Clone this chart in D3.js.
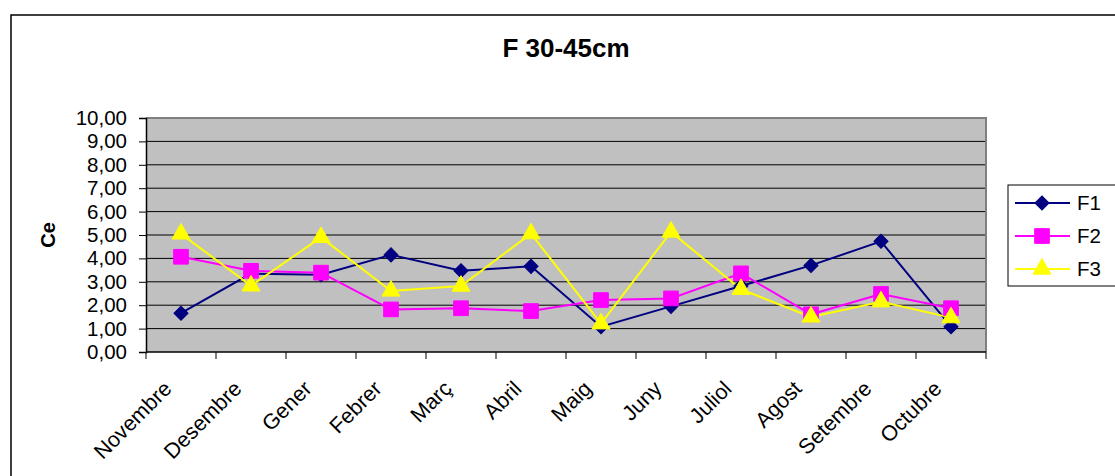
<!DOCTYPE html>
<html><head><meta charset="utf-8">
<script src="https://cdn.jsdelivr.net/npm/d3@7"></script>
<style>
body{margin:0;background:#fff;}
text{font-family:"Liberation Sans",Arial,sans-serif;fill:#000;}
</style></head>
<body><svg id="c" width="1115" height="476"></svg>
<script>
const categories = ["Novembre","Desembre","Gener","Febrer","Març","Abril","Maig","Juny","Juliol","Agost","Setembre","Octubre"];
const seriesNames = ["F1","F2","F3"];
const F1 = [1.66,3.35,3.30,4.15,3.47,3.66,1.08,1.95,2.82,3.70,4.73,1.08];
const F2 = [4.07,3.47,3.39,1.82,1.87,1.75,2.22,2.29,3.36,1.61,2.48,1.87];
const F3 = [5.05,2.83,4.90,2.61,2.82,5.06,1.21,5.13,2.68,1.50,2.15,1.47];
const yTicks = [0,1,2,3,4,5,6,7,8,9,10];
const title = "F 30-45cm";
const yLabel = "Ce";

const colors = {F1:"#000080",F2:"#FF00FF",F3:"#FFFF00"};
const symbols = {F1:d3.symbolSquare,F2:d3.symbolSquare,F3:d3.symbolTriangle};
const symRot = {F1:45,F2:0,F3:0};
const symSize = {F1:100,F2:215,F3:140};
const data = {F1,F2,F3};

const svg = d3.select("#c");
const L=146,R=986,T=118,B=352;

svg.append("rect").attr("x",11).attr("y",15).attr("width",1130).attr("height",480)
  .attr("fill","none").attr("stroke","#000").attr("stroke-width",1.5);

const x = d3.scaleBand().domain(categories).range([L,R]).padding(0);
const y = d3.scaleLinear().domain([0,10]).range([B,T]);
const cx = c => x(c)+x.bandwidth()/2;

svg.append("rect").attr("x",L).attr("y",T).attr("width",R-L).attr("height",B-T).attr("fill","#C0C0C0");
svg.append("g").selectAll("line").data(yTicks.filter(v=>v>0&&v<10)).join("line")
  .attr("x1",L).attr("x2",R).attr("y1",d=>y(d)).attr("y2",d=>y(d))
  .attr("stroke","#000").attr("stroke-width",1);
svg.append("path").attr("d",`M${L},${T}H${R}V${B}`).attr("fill","none").attr("stroke","#808080").attr("stroke-width",2);

const yAxis = d3.axisLeft(y).tickValues(yTicks).tickSize(7).tickPadding(12)
  .tickFormat(d=>d3.format(".2f")(d).replace(".",","));
const gy = svg.append("g").attr("transform",`translate(${L},0)`).call(yAxis);
gy.select(".domain").attr("stroke","#000").attr("stroke-width",1.5);
gy.selectAll(".tick line").attr("stroke","#000");
gy.selectAll("text").style("font-size","20.5px").attr("fill","#000");

svg.append("line").attr("x1",L).attr("x2",R).attr("y1",B).attr("y2",B).attr("stroke","#000").attr("stroke-width",1.5);
const bounds = categories.map(c=>x(c)).concat([R]);
svg.append("g").selectAll("line").data(bounds).join("line")
  .attr("x1",d=>d).attr("x2",d=>d).attr("y1",B).attr("y2",B+7).attr("stroke","#000");
svg.append("g").selectAll("text").data(categories).join("text")
  .attr("transform",d=>`translate(${cx(d)-8},390) rotate(-45)`)
  .attr("text-anchor","end").style("font-size","21.5px").text(d=>d);

seriesNames.forEach(s=>{
  const vals = data[s];
  const line = d3.line().x((d,i)=>cx(categories[i])).y(d=>y(d));
  svg.append("path").datum(vals).attr("d",line).attr("fill","none")
    .attr("stroke",colors[s]).attr("stroke-width",2);
});
seriesNames.forEach(s=>{
  const vals = data[s];
  svg.append("g").selectAll("path").data(vals).join("path")
    .attr("transform",(d,i)=>`translate(${cx(categories[i])},${y(d)}) rotate(${symRot[s]})`)
    .attr("d",d3.symbol().type(symbols[s]).size(symSize[s]))
    .attr("fill",colors[s]).attr("stroke",colors[s]).attr("stroke-width",1);
});

svg.append("text").attr("x",566).attr("y",57).attr("text-anchor","middle")
  .style("font-size","26px").style("font-weight","bold").text(title);
svg.append("text").attr("transform","translate(55,235) rotate(-90)").attr("text-anchor","middle")
  .style("font-size","20px").style("font-weight","bold").text(yLabel);

const lg = svg.append("g");
lg.append("rect").attr("x",1008).attr("y",185).attr("width",130).attr("height",101)
  .attr("fill","#fff").attr("stroke","#000").attr("stroke-width",1);
seriesNames.forEach((s,i)=>{
  const yy = 203 + i*33;
  lg.append("line").attr("x1",1015).attr("x2",1070).attr("y1",yy).attr("y2",yy)
    .attr("stroke",colors[s]).attr("stroke-width",2);
  lg.append("path").attr("transform",`translate(1042,${yy}) rotate(${symRot[s]})`)
    .attr("d",d3.symbol().type(symbols[s]).size(symSize[s]))
    .attr("fill",colors[s]).attr("stroke",colors[s]);
  lg.append("text").attr("x",1077).attr("y",yy+7).style("font-size","20.5px").text(s);
});
</script></body></html>
